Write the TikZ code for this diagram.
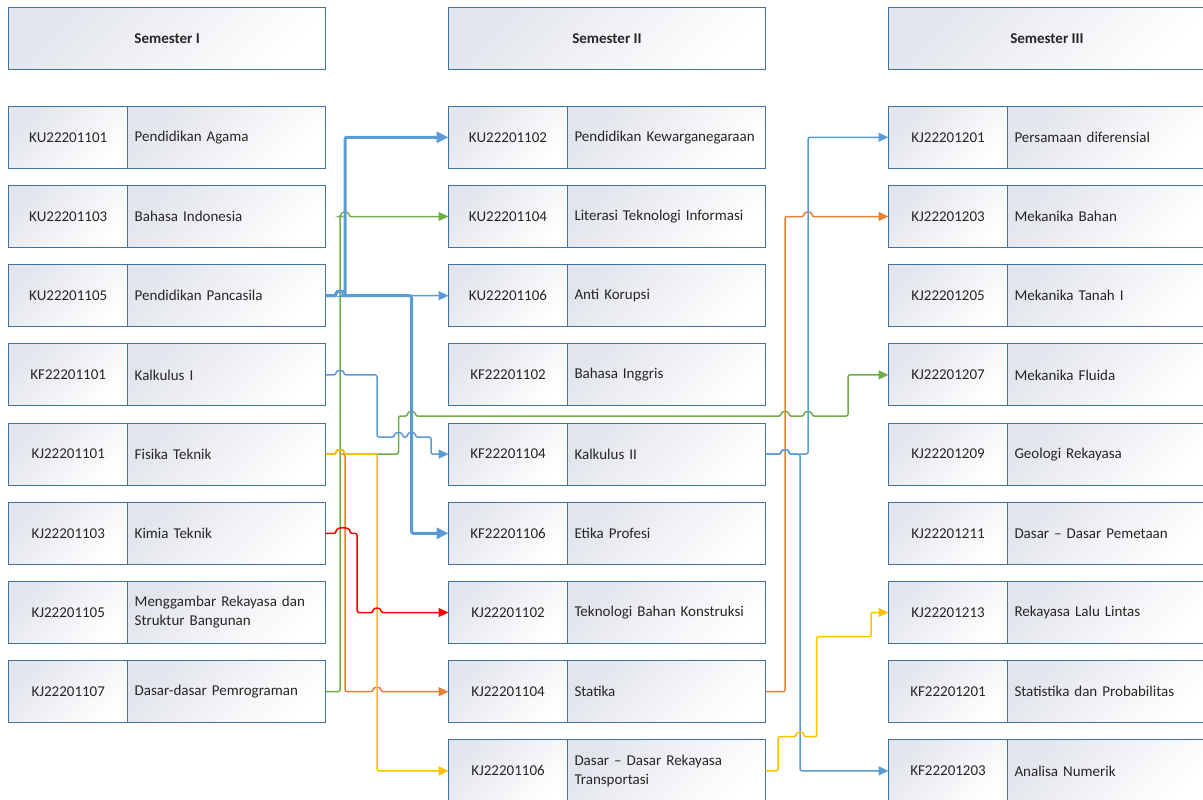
\documentclass[tikz,border=0pt]{standalone}
\usepackage{fontspec}
\setmainfont{Carlito}
\usetikzlibrary{arrows.meta,calc}
\definecolor{bord}{HTML}{41719C}
\definecolor{shd}{HTML}{E2E5EC}
\definecolor{lblue}{HTML}{5B9BD5}
\definecolor{lgreen}{HTML}{70AD47}
\definecolor{lorange}{HTML}{ED7D31}
\definecolor{lyellow}{HTML}{FFC000}
\definecolor{lred}{HTML}{FF0000}
\definecolor{txt}{HTML}{262626}
\tikzset{
  cell/.style={draw=bord, line width=1pt, top color=shd, bottom color=white, shading angle=45,
    minimum height=62pt, inner sep=0pt, outer sep=0pt, text=txt, font=\fontsize{15}{19}\selectfont},
  codecell/.style={cell, minimum width=119pt},
  namecell/.style={cell, text width=184pt, inner xsep=7pt, align=left},
  headcell/.style={cell, minimum width=317pt, font=\fontsize{15}{19}\selectfont\bfseries},
  conn/.style={line width=1.5pt, rounded corners=2pt, -{Triangle[length=10pt,width=9pt]}},
  thickconn/.style={line width=3pt, rounded corners=2pt, -{Triangle[length=12pt,width=11pt]}},
  hop/.style 2 args={insert path={-- ({#1-4},#2) .. controls ({#1-4},{#2-5.3}) and ({#1+4},{#2-5.3}) .. ({#1+4},#2)}}
}
\begin{document}
\begin{tikzpicture}[x=1pt,y=-1pt]
\useasboundingbox (0,0) rectangle (1203,800);
% headers
\node[headcell, anchor=north west] (h1) at (8.7,7.3) {Semester I};
\node[headcell, anchor=north west] (h2) at (448.5,7.3) {Semester II};
\node[headcell, anchor=north west] (h3) at (888.5,7.3) {Semester III};
% Semester I
\foreach \i/\c/\n in {0/KU22201101/Pendidikan Agama, 1/KU22201103/Bahasa Indonesia,
  2/KU22201105/Pendidikan Pancasila, 3/KF22201101/Kalkulus I, 4/KJ22201101/Fisika Teknik,
  5/KJ22201103/Kimia Teknik, 6/KJ22201105/{Menggambar Rekayasa dan\\Struktur Bangunan},
  7/KJ22201107/Dasar-dasar Pemrograman}{
  \pgfmathsetmacro\yy{137.3+79.2*\i}
  \node[codecell, anchor=west] (s1c\i) at (8.7,\yy) {\c};
  \node[namecell, anchor=west] (s1n\i) at (s1c\i.east) {\n};
}
% Semester II
\foreach \i/\c/\n in {0/KU22201102/Pendidikan Kewarganegaraan, 1/KU22201104/Literasi Teknologi Informasi,
  2/KU22201106/Anti Korupsi, 3/KF22201102/Bahasa Inggris, 4/KF22201104/Kalkulus II,
  5/KF22201106/Etika Profesi, 6/KJ22201102/Teknologi Bahan Konstruksi,
  7/KJ22201104/Statika, 8/KJ22201106/{Dasar -- Dasar Rekayasa\\Transportasi}}{
  \pgfmathsetmacro\yy{137.3+79.2*\i}
  \node[codecell, anchor=west] (s2c\i) at (448.5,\yy) {\c};
  \node[namecell, anchor=west] (s2n\i) at (s2c\i.east) {\n};
}
% Semester III
\foreach \i/\c/\n in {0/KJ22201201/Persamaan diferensial, 1/KJ22201203/Mekanika Bahan,
  2/KJ22201205/Mekanika Tanah I, 3/KJ22201207/Mekanika Fluida, 4/KJ22201209/Geologi Rekayasa,
  5/KJ22201211/Dasar -- Dasar Pemetaan, 6/KJ22201213/Rekayasa Lalu Lintas,
  7/KF22201201/Statistika dan Probabilitas, 8/KF22201203/Analisa Numerik}{
  \pgfmathsetmacro\yy{137.3+79.2*\i}
  \node[codecell, anchor=west] (s3c\i) at (888.5,\yy) {\c};
  \node[namecell, anchor=west] (s3n\i) at (s3c\i.east) {\n};
}
% ---- connectors Semester I -> II
% green: Dasar-dasar Pemrograman -> Literasi
\draw[conn, lgreen] (s1n7.east) -- (340,691.7) -- (340,216.5) [hop={345}{216.5}] -- (s2c1.west);
% green: Fisika Teknik -> Mekanika Fluida
\draw[conn, lgreen] (s1n4.east) [hop={340}{454.1}] -- (398.5,454.1) -- (398.5,416)
  [hop={411.5}{416}] [hop={785}{416}] [hop={808}{416}] -- (848,416) |- (s3c3.west);
% orange: Fisika Teknik -> Statika
\draw[conn, lorange] (s1n4.east) [hop={340}{454.1}] -- (345,454.1) -- (345,691.7)
  [hop={377}{691.7}] -- (s2c7.west);
% yellow: Fisika Teknik -> Dasar Rekayasa Transportasi
\draw[conn, lyellow] (s1n4.east) [hop={340}{454.1}] -- (377,454.1) |- (s2c8.west);
% red: Kimia Teknik -> Teknologi Bahan Konstruksi
\draw[conn, lred] (s1n5.east) -- (336,533.3) .. controls (336,526.5) and (350,526.5) .. (350,533.3)
  -- (357,533.3) -- (357,612.5) [hop={377}{612.5}] -- (s2c6.west);
% blue thin: Kalkulus I -> Kalkulus II
\draw[conn, lblue] (s1n3.east) [hop={340}{374.9}] -- (377,374.9) -- (377,437)
  [hop={398.5}{437}] [hop={411.5}{437}] -- (431,437) |- (s2c4.west);
% blue thin: Pancasila -> Anti Korupsi
\draw[conn, lblue] (s1n2.east) [hop={340}{295.7}] -- (s2c2.west);
% blue thick: Pancasila -> Kewarganegaraan, Etika Profesi
\draw[thickconn, lblue] (s1n2.east) [hop={340}{295.7}] -- (345,295.7) |- (s2c0.west);
\draw[thickconn, lblue] (s1n2.east) [hop={340}{295.7}] -- (411.5,295.7) |- (s2c5.west);
% ---- connectors Semester II -> III
% orange: Statika -> Mekanika Bahan
\draw[conn, lorange] (s2n7.east) -- (785,691.7) -- (785,216.5) [hop={808}{216.5}] -- (s3c1.west);
% blue: Kalkulus II -> Persamaan diferensial
\draw[conn, lblue] (s2n4.east) [hop={785}{454.1}] -- (808,454.1) |- (s3c0.west);
% blue: Kalkulus II -> Analisa Numerik
\draw[conn, lblue] (s2n4.east) [hop={785}{454.1}] -- (800,454.1) |- (s3c8.west);
% yellow: Dasar Rekayasa Transportasi -> Rekayasa Lalu Lintas
\draw[conn, lyellow] (s2n8.east) -- (778,770.9) -- (778,736.7) [hop={800}{736.7}]
  -- (816.7,736.7) -- (816.7,636.7) -- (871,636.7) |- (s3c6.west);
\end{tikzpicture}
\end{document}
